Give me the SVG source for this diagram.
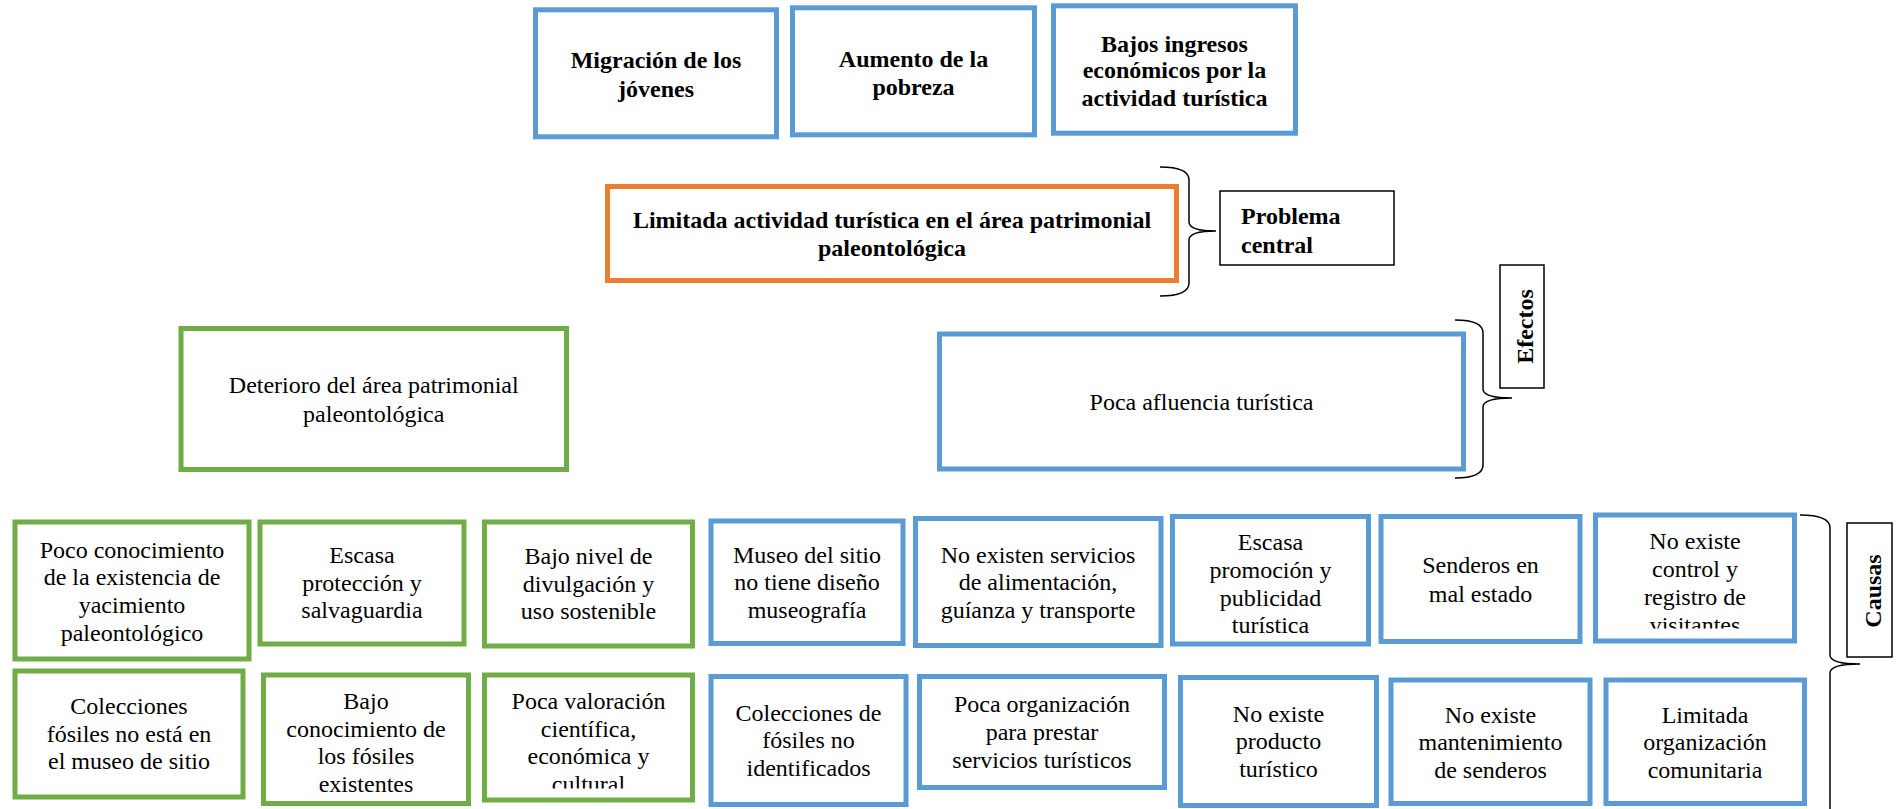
<svg xmlns="http://www.w3.org/2000/svg" width="1903" height="809" viewBox="0 0 1903 809">
<style>
.bx{fill:#fff;stroke-width:5}
.blue{stroke:#5B9BD5}
.green{stroke:#70AD47}
.orange{stroke:#ED7D31}
.lbl{fill:#fff;stroke:#000;stroke-width:1.5}
.t{font-family:"Liberation Serif","Times New Roman",serif;font-size:24px;fill:#000;text-anchor:middle}
.bold{font-weight:bold}
.br{fill:none;stroke:#000;stroke-width:1.5}
</style>
<defs>
<clipPath id="clipVis"><rect x="1595" y="515" width="200" height="113.5"/></clipPath>
<clipPath id="clipCul"><rect x="484" y="675" width="209" height="113.5"/></clipPath>
</defs>
<rect width="1903" height="809" fill="#fff"/>

<g id="connectors">
<path class="br" d="M1160,167 Q1189,167 1189,180 L1189,222 Q1189,231 1216,231 Q1189,231 1189,240 L1189,283 Q1189,296 1160,296"/>
<path class="br" d="M1455,320 Q1483,320 1483,333 L1483,389 Q1483,398 1512,398 Q1483,398 1483,407 L1483,465 Q1483,478 1455,478"/>
<path class="br" d="M1800,515 Q1830,515 1830,528 L1830,655 Q1830,664 1860,664 Q1830,664 1830,673 L1830,815"/>
</g>

<g id="efecto-migracion">
<rect class="bx blue" x="535.5" y="9.8" width="241" height="127"/>
<text class="t bold"><tspan x="656" y="68.3">Migración de los</tspan><tspan x="656" y="96.7">jóvenes</tspan></text>
</g>
<g id="efecto-pobreza">
<rect class="bx blue" x="792.5" y="7.8" width="242" height="127"/>
<text class="t bold"><tspan x="913.5" y="66.7">Aumento de la</tspan><tspan x="913.5" y="95">pobreza</tspan></text>
</g>
<g id="efecto-ingresos">
<rect class="bx blue" x="1053.5" y="5.8" width="242" height="127.4"/>
<text class="t bold"><tspan x="1174.5" y="51.7">Bajos ingresos</tspan><tspan x="1174.5" y="78.3">económicos por la</tspan><tspan x="1174.5" y="106">actividad turística</tspan></text>
</g>

<g id="problema">
<rect class="bx orange" x="607.5" y="186.5" width="569" height="94"/>
<text class="t bold"><tspan x="892" y="228.3">Limitada actividad turística en el área patrimonial</tspan><tspan x="892" y="256">paleontológica</tspan></text>
</g>
<g id="label-problema">
<rect class="lbl" x="1220" y="191" width="174" height="74"/>
<text class="t bold" style="text-anchor:start"><tspan x="1241" y="224">Problema</tspan><tspan x="1241" y="252.7">central</tspan></text>
</g>
<g id="label-efectos">
<rect class="lbl" x="1500" y="265" width="44" height="123"/>
<text class="t bold" transform="translate(1533,326.5) rotate(-90)">Efectos</text>
</g>

<g id="deterioro">
<rect class="bx green" x="181" y="328.5" width="385.5" height="141"/>
<text class="t"><tspan x="373.75" y="393">Deterioro del área patrimonial</tspan><tspan x="373.75" y="421.7">paleontológica</tspan></text>
</g>
<g id="afluencia">
<rect class="bx blue" x="939.5" y="334" width="524" height="135"/>
<text class="t" x="1201.5" y="410">Poca afluencia turística</text>
</g>

<g id="c1">
<rect class="bx green" x="15" y="522" width="234" height="137"/>
<text class="t"><tspan x="132" y="557.7">Poco conocimiento</tspan><tspan x="132" y="585">de la existencia de</tspan><tspan x="132" y="612.7">yacimiento</tspan><tspan x="132" y="640.7">paleontológico</tspan></text>
</g>
<g id="c2">
<rect class="bx green" x="260" y="522" width="204" height="122"/>
<text class="t"><tspan x="362" y="563.3">Escasa</tspan><tspan x="362" y="591">protección y</tspan><tspan x="362" y="618.3">salvaguardia</tspan></text>
</g>
<g id="c3">
<rect class="bx green" x="484.5" y="522" width="208" height="124"/>
<text class="t"><tspan x="588.5" y="564">Bajo nivel de</tspan><tspan x="588.5" y="591.7">divulgación y</tspan><tspan x="588.5" y="619.3">uso sostenible</tspan></text>
</g>
<g id="c4">
<rect class="bx blue" x="711" y="521" width="192" height="122.5"/>
<text class="t"><tspan x="807" y="563.3">Museo del sitio</tspan><tspan x="807" y="590">no tiene diseño</tspan><tspan x="807" y="617.7">museografía</tspan></text>
</g>
<g id="c5">
<rect class="bx blue" x="915.5" y="518.5" width="245.5" height="127"/>
<text class="t"><tspan x="1038" y="563.3">No existen servicios</tspan><tspan x="1038" y="590">de alimentación,</tspan><tspan x="1038" y="617.7">guíanza y transporte</tspan></text>
</g>
<g id="c6">
<rect class="bx blue" x="1172.5" y="516.5" width="196" height="127.5"/>
<text class="t"><tspan x="1270.5" y="550">Escasa</tspan><tspan x="1270.5" y="577.7">promoción y</tspan><tspan x="1270.5" y="605.7">publicidad</tspan><tspan x="1270.5" y="633.3">turística</tspan></text>
</g>
<g id="c7">
<rect class="bx blue" x="1381" y="516.5" width="199" height="125"/>
<text class="t"><tspan x="1480.5" y="573.3">Senderos en</tspan><tspan x="1480.5" y="601.7">mal estado</tspan></text>
</g>
<g id="c8">
<rect class="bx blue" x="1595.5" y="515" width="199" height="126"/>
<text class="t" clip-path="url(#clipVis)"><tspan x="1695" y="549.3">No existe</tspan><tspan x="1695" y="576.7">control y</tspan><tspan x="1695" y="605">registro de</tspan><tspan x="1695" y="633">visitantes</tspan></text>
</g>
<g id="label-causas">
<rect class="lbl" x="1847" y="523" width="45" height="134"/>
<text class="t bold" transform="translate(1881,591) rotate(-90)">Causas</text>
</g>

<g id="c9">
<rect class="bx green" x="15" y="671" width="228" height="126"/>
<text class="t"><tspan x="129" y="714">Colecciones</tspan><tspan x="129" y="741.7">fósiles no está en</tspan><tspan x="129" y="769.3">el museo de sitio</tspan></text>
</g>
<g id="c10">
<rect class="bx green" x="263.5" y="675" width="205" height="128.5"/>
<text class="t"><tspan x="366" y="709.3">Bajo</tspan><tspan x="366" y="736.7">conocimiento de</tspan><tspan x="366" y="764">los fósiles</tspan><tspan x="366" y="791.7">existentes</tspan></text>
</g>
<g id="c11">
<rect class="bx green" x="484.5" y="675" width="208" height="125"/>
<text class="t" clip-path="url(#clipCul)"><tspan x="588.5" y="709.3">Poca valoración</tspan><tspan x="588.5" y="736.7">científica,</tspan><tspan x="588.5" y="764">económica y</tspan><tspan x="588.5" y="791.7">cultural</tspan></text>
</g>
<g id="c12">
<rect class="bx blue" x="711" y="676.5" width="195" height="128"/>
<text class="t"><tspan x="808.5" y="721">Colecciones de</tspan><tspan x="808.5" y="748.3">fósiles no</tspan><tspan x="808.5" y="776">identificados</tspan></text>
</g>
<g id="c13">
<rect class="bx blue" x="919.5" y="676.5" width="245" height="111"/>
<text class="t"><tspan x="1042" y="712">Poca organización</tspan><tspan x="1042" y="740">para prestar</tspan><tspan x="1042" y="767.7">servicios turísticos</tspan></text>
</g>
<g id="c14">
<rect class="bx blue" x="1180.5" y="677.5" width="196" height="128"/>
<text class="t"><tspan x="1278.5" y="721.7">No existe</tspan><tspan x="1278.5" y="749.3">producto</tspan><tspan x="1278.5" y="776.7">turístico</tspan></text>
</g>
<g id="c15">
<rect class="bx blue" x="1391" y="680" width="199" height="123.5"/>
<text class="t"><tspan x="1490.5" y="722.7">No existe</tspan><tspan x="1490.5" y="750">mantenimiento</tspan><tspan x="1490.5" y="777.7">de senderos</tspan></text>
</g>
<g id="c16">
<rect class="bx blue" x="1606" y="680" width="198.5" height="123.5"/>
<text class="t"><tspan x="1705" y="722.7">Limitada</tspan><tspan x="1705" y="750">organización</tspan><tspan x="1705" y="777.7">comunitaria</tspan></text>
</g>
</svg>
